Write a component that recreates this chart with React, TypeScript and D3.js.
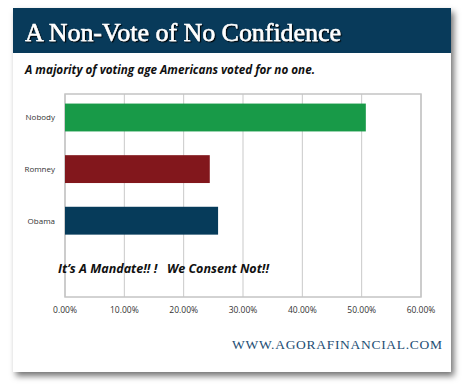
import React from 'react';
import * as d3 from 'd3';

// chart data
const categories = ['Nobody', 'Romney', 'Obama'];
const shares = [50.7, 24.4, 25.8];
const barColors = ['#189a48', '#82171c', '#063b5a'];
const xTicks = [0, 10, 20, 30, 40, 50, 60];

const title = 'A Non-Vote of No Confidence';
const subtitle = 'A majority of voting age Americans voted for no one.';
const note = 'It\u2019s A Mandate!! !   We Consent Not!!';
const source = 'WWW.AGORAFINANCIAL.COM';

function App() {
    const width = 470;
    const height = 392;
    const plot = { left: 65, right: 421, top: 94, bottom: 297 };

    const x = d3.scaleLinear().domain([0, 60]).range([plot.left, plot.right]);
    const y = d3.scaleBand<string>()
        .domain(categories)
        .range([91.7, 246.5])
        .paddingInner(0.46)
        .paddingOuter(0.23);

    const sans = '"Open Sans", "Liberation Sans", sans-serif';

    return (
        <svg width={width} height={height} style={{ position: 'absolute', left: 0, top: 0 }}>
            <defs>
                <filter id="card-shadow" x="-10%" y="-10%" width="120%" height="120%">
                    <feDropShadow dx="3" dy="4" stdDeviation="3" floodColor="#000" floodOpacity="0.55" />
                </filter>
                <filter id="title-shadow">
                    <feDropShadow dx="1.2" dy="1.2" stdDeviation="0.4" floodColor="#000" floodOpacity="0.9" />
                </filter>
            </defs>
            <rect x={0} y={0} width={width} height={height} fill="#fff" />

            {/* card */}
            <rect x={13} y={8} width={438} height={364} fill="#fff" filter="url(#card-shadow)" />
            <rect x={13} y={8} width={438} height={45} fill="#083a5a" />
            <text x={25} y={40.5} fill="#fff" stroke="#fff" strokeWidth={0.5} fontFamily='"Liberation Serif", serif'
                fontSize={25.5} textLength={316} lengthAdjust="spacingAndGlyphs"
                filter="url(#title-shadow)">{title}</text>
            <text x={25} y={73.5} fill="#111" fontFamily={sans} fontWeight="bold" fontStyle="italic"
                fontSize={11.5} textLength={290} lengthAdjust="spacingAndGlyphs">{subtitle}</text>

            {/* grid */}
            {xTicks.map(t => (
                <line key={t} x1={x(t)} x2={x(t)} y1={plot.top} y2={plot.bottom} stroke="#c9c9c9" strokeWidth={1} />
            ))}
            <rect x={plot.left} y={plot.top} width={plot.right - plot.left} height={plot.bottom - plot.top}
                fill="none" stroke="#c4c4c4" strokeWidth={1.5} />

            {/* bars */}
            {categories.map((c, i) => (
                <rect key={c} x={x(0)} y={y(c)!} width={x(shares[i]) - x(0)} height={y.bandwidth()}
                    fill={barColors[i]} />
            ))}

            {/* category labels */}
            {categories.map(c => (
                <text key={c} x={55} y={y(c)! + y.bandwidth() / 2} dy="0.35em" textAnchor="end"
                    fontFamily={sans} fontSize={8} fill="#333">{c}</text>
            ))}

            {/* x tick labels */}
            {xTicks.map(t => (
                <text key={t} x={x(t)} y={310} dy="0.35em" textAnchor="middle" fontFamily={sans}
                    fontSize={8.5} fill="#333">{d3.format('.2f')(t) + '%'}</text>
            ))}

            <text x={58} y={273} fill="#111" fontFamily={sans} fontWeight="bold" fontStyle="italic"
                fontSize={12.5} textLength={211} lengthAdjust="spacingAndGlyphs" xmlSpace="preserve">{note}</text>

            <text x={232} y={348.5} fill="#1d4e74" fontFamily='"Liberation Serif", serif' fontSize={13.5}
                textLength={210} lengthAdjust="spacing">{source}</text>
        </svg>
    );
}

export default App;
